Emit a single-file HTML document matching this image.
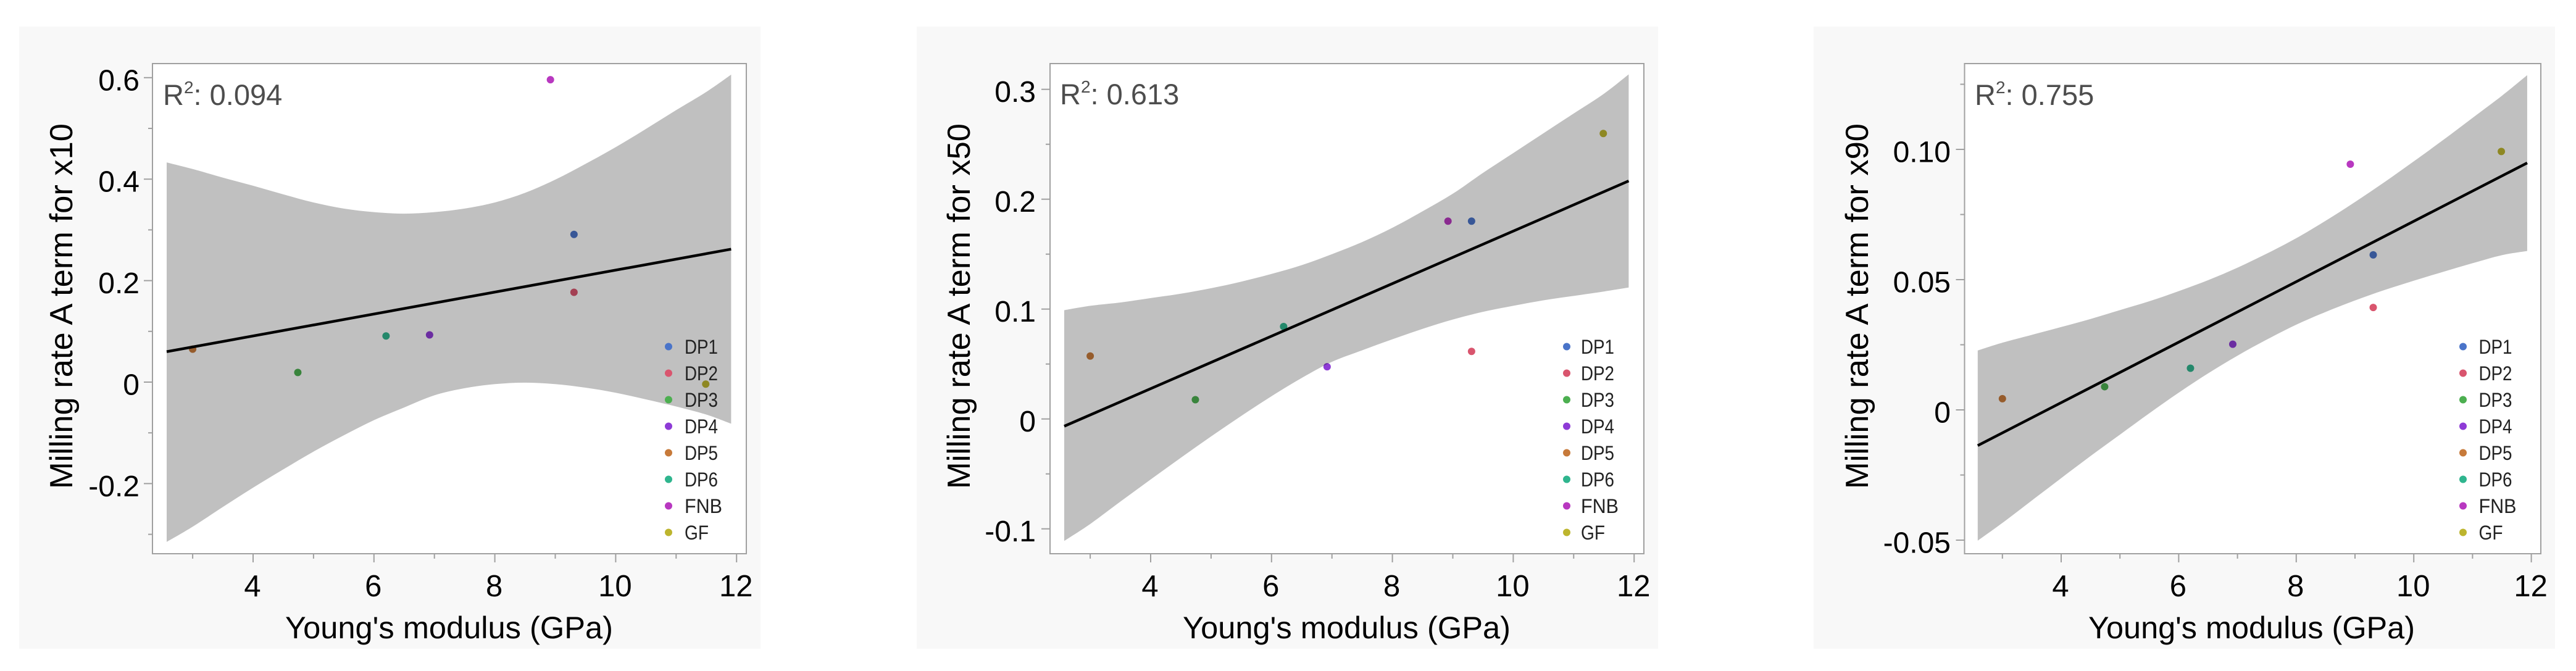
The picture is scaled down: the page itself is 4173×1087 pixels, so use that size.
<!DOCTYPE html>
<html lang="en">
<head>
<meta charset="utf-8">
<title>Milling rate A term vs Young's modulus</title>
<style>
html,body{margin:0;padding:0;background:#fff;width:4173px;height:1087px;overflow:hidden}
svg{display:block;font-family:"Liberation Sans",sans-serif}
.band{mix-blend-mode:multiply}
</style>
</head>
<body>
<svg id="figure" xmlns="http://www.w3.org/2000/svg" width="4173" height="1087" viewBox="0 0 4173 1087">
  <g id="chart-x10">
    <rect x="31" y="43" width="1201" height="1008" fill="#f8f8f8"/>
    <rect x="247" y="103" width="962" height="794" fill="#fff"/>
    <g class="marks"></g>
    <rect x="247" y="103" width="962" height="794" fill="none" stroke="#a0a0a0" stroke-width="2"/>
    <g class="axes"></g>
    <text x="264" y="170" font-size="47" fill="#4d4d4d">R<tspan dy="-19" font-size="28">2</tspan><tspan dy="19">: 0.094</tspan></text>
    <text transform="translate(117,792) rotate(-90)" font-size="52" fill="#000" textLength="592" lengthAdjust="spacingAndGlyphs">Milling rate A term for x10</text>
    <text x="462" y="1034" font-size="50" fill="#000" textLength="531" lengthAdjust="spacingAndGlyphs">Young's modulus (GPa)</text>
  </g>
  <g id="chart-x50">
    <rect x="1485" y="43" width="1201" height="1008" fill="#f8f8f8"/>
    <rect x="1701" y="103" width="962" height="794" fill="#fff"/>
    <g class="marks"></g>
    <rect x="1701" y="103" width="962" height="794" fill="none" stroke="#a0a0a0" stroke-width="2"/>
    <g class="axes"></g>
    <text x="1717" y="169" font-size="47" fill="#4d4d4d">R<tspan dy="-19" font-size="28">2</tspan><tspan dy="19">: 0.613</tspan></text>
    <text transform="translate(1571,792) rotate(-90)" font-size="52" fill="#000" textLength="592" lengthAdjust="spacingAndGlyphs">Milling rate A term for x50</text>
    <text x="1916" y="1034" font-size="50" fill="#000" textLength="531" lengthAdjust="spacingAndGlyphs">Young's modulus (GPa)</text>
  </g>
  <g id="chart-x90">
    <rect x="2938" y="43" width="1201" height="1008" fill="#f8f8f8"/>
    <rect x="3182.5" y="103" width="933.5" height="794" fill="#fff"/>
    <g class="marks"></g>
    <rect x="3182.5" y="103" width="933.5" height="794" fill="none" stroke="#a0a0a0" stroke-width="2"/>
    <g class="axes"></g>
    <text x="3199" y="170" font-size="47" fill="#4d4d4d">R<tspan dy="-19" font-size="28">2</tspan><tspan dy="19">: 0.755</tspan></text>
    <text transform="translate(3026,792) rotate(-90)" font-size="52" fill="#000" textLength="592" lengthAdjust="spacingAndGlyphs">Milling rate A term for x90</text>
    <text x="3383" y="1034" font-size="50" fill="#000" textLength="529" lengthAdjust="spacingAndGlyphs">Young's modulus (GPa)</text>
  </g>
</svg>
<script>
const categories = ['DP1','DP2','DP3','DP4','DP5','DP6','FNB','GF'];
const categoryColors = ['#4a74c9','#d9556e','#4caf50','#8e3bd6','#c77a3a','#2fb58e','#b838c0','#bdb52e'];
const modulus = [9.31,9.31,4.74,6.92,3.0,6.2,8.92,11.49];

const rateX10 = [0.291,0.177,0.019,0.093,0.065,0.091,0.596,-0.004];
const rateX50 = [0.18,0.0615,0.0175,0.0475,0.0573,0.0841,0.18,0.2598];
const rateX90 = [0.0595,0.0393,0.0089,0.0252,0.0043,0.016,0.0943,0.0992];

const bandXWide = [2.57,3,3.5,4,4.5,5,5.5,6,6.5,7,7.5,8,8.5,9,9.5,10,10.5,11,11.5,11.91];
const bandXNarrow = [2.58,3,3.5,4,4.5,5,5.5,6,6.5,7,7.5,8,8.5,9,9.5,10,10.5,11,11.5,11.93];

const upperX10 = [0.433,0.42,0.403,0.387,0.37,0.354,0.342,0.335,0.332,0.335,0.342,0.354,0.373,0.399,0.43,0.463,0.499,0.536,0.572,0.606];
const lowerX10 = [-0.315,-0.285,-0.246,-0.208,-0.172,-0.137,-0.105,-0.075,-0.05,-0.026,-0.012,-0.004,-0.001,-0.004,-0.011,-0.021,-0.034,-0.048,-0.064,-0.082];
const fitX10 = [0.06,0.262];

const upperX50 = [0.099,0.103,0.106,0.11,0.114,0.119,0.125,0.132,0.14,0.15,0.161,0.174,0.189,0.205,0.224,0.242,0.26,0.278,0.296,0.3136];
const lowerX50 = [-0.111,-0.0956,-0.0752,-0.0551,-0.0353,-0.0159,0.0028,0.0207,0.0373,0.052,0.0625,0.0725,0.082,0.0905,0.0975,0.103,0.108,0.112,0.116,0.1196];
const fitX50 = [-0.0066,0.2166];

const upperX90 = [0.0228,0.0258,0.0288,0.0318,0.0349,0.0383,0.0417,0.0456,0.0498,0.0546,0.06,0.0659,0.0726,0.0798,0.0874,0.0954,0.1036,0.1121,0.1206,0.1285];
const lowerX90 = [-0.0502,-0.0434,-0.0348,-0.0262,-0.0177,-0.0095,-0.0013,0.0066,0.014,0.0208,0.027,0.0327,0.0376,0.042,0.046,0.0496,0.053,0.0563,0.0594,0.061];
const fitX90 = [-0.0137,0.0948];

const xMajorTicks = [4,6,8,10,12];
const xMinorTicks = [3,5,7,9,11];

const yTicksX10 = [-0.2,0,0.2,0.4,0.6];
const yLabelsX10 = ['-0.2','0','0.2','0.4','0.6'];
const yMinorX10 = [-0.3,-0.1,0.1,0.3,0.5];

const yTicksX50 = [-0.1,0,0.1,0.2,0.3];
const yLabelsX50 = ['-0.1','0','0.1','0.2','0.3'];
const yMinorX50 = [-0.05,0.05,0.15,0.25];

const yTicksX90 = [-0.05,0,0.05,0.10];
const yLabelsX90 = ['-0.05','0','0.05','0.10'];
const yMinorX90 = [-0.025,0.025,0.075,0.125];

const legendTextWidths = [54,54,54,54,54,54,61,39];

const SVGNS = 'http://www.w3.org/2000/svg';
function make(tag, parent, attrs, text) {
  const el = document.createElementNS(SVGNS, tag);
  for (const k in attrs) el.setAttribute(k, attrs[k]);
  if (text !== undefined) el.textContent = text;
  parent.appendChild(el);
  return el;
}

// smooth curve through read-off knots (Catmull-Rom to cubic Bezier)
function curveThrough(pts) {
  let d = '';
  for (let i = 0; i < pts.length - 1; i++) {
    const p0 = pts[Math.max(i - 1, 0)];
    const p1 = pts[i];
    const p2 = pts[i + 1];
    const p3 = pts[Math.min(i + 2, pts.length - 1)];
    const c1x = p1[0] + (p2[0] - p0[0]) / 6;
    const c1y = p1[1] + (p2[1] - p0[1]) / 6;
    const c2x = p2[0] - (p3[0] - p1[0]) / 6;
    const c2y = p2[1] - (p3[1] - p1[1]) / 6;
    d += ' C' + c1x + ' ' + c1y + ' ' + c2x + ' ' + c2y + ' ' + p2[0] + ' ' + p2[1];
  }
  return d;
}

function drawChart(c) {
  const root = document.getElementById(c.id);
  const marks = root.querySelector('.marks');
  const axes = root.querySelector('.axes');
  const xAxis = v => c.x4 + (v - 4) * c.xUnit;
  const yAxis = v => c.y0 - v * c.yUnit;

  // points sit beneath the multiply-blended band, so they darken inside it
  c.ys.forEach((v, i) => {
    const dot = make('circle', marks, {cx: xAxis(modulus[i]), cy: yAxis(v), r: 6, fill: categoryColors[i]});
    
    
  });

  const upperPts = c.bandX.map((x, i) => [xAxis(x), yAxis(c.upper[i])]);
  const lowerPts = c.bandX.map((x, i) => [xAxis(x), yAxis(c.lower[i])]).reverse();
  const bandPath = 'M' + upperPts[0].join(' ') + curveThrough(upperPts) +
    ' L' + lowerPts[0].join(' ') + curveThrough(lowerPts) + ' Z';
  const band = make('path', marks, {d: bandPath, fill: '#c0c0c0', class: 'band'});
  
  

  const first = c.bandX[0];
  const last = c.bandX[c.bandX.length - 1];
  const fit = make('line', marks, {x1: xAxis(first), y1: yAxis(c.fit[0]), x2: xAxis(last), y2: yAxis(c.fit[1]), stroke: '#000', 'stroke-width': 4.4});
  
  

  categories.forEach((label, i) => {
    const ly = 561.5 + i * 43;
    const key = make('circle', marks, {cx: c.legendDot, cy: ly, r: 6, fill: categoryColors[i]});
    
    
    const txt = make('text', marks, {x: c.legendText, y: ly + 11.5, 'font-size': 32, fill: '#222', textLength: legendTextWidths[i], lengthAdjust: 'spacingAndGlyphs'}, label);
    
    
  });

  xMajorTicks.forEach(v => {
    const t = make('line', axes, {x1: xAxis(v), x2: xAxis(v), y1: 897, y2: 911, stroke: '#a0a0a0', 'stroke-width': 2});
    
    
    const l = make('text', axes, {x: xAxis(v) - 1, y: 966, 'font-size': 49, fill: '#000', 'text-anchor': 'middle'}, String(v));
    
    
  });
  xMinorTicks.forEach(v => {
    const t = make('line', axes, {x1: xAxis(v), x2: xAxis(v), y1: 897, y2: 905, stroke: '#a0a0a0', 'stroke-width': 2});
    
    
  });
  c.yTicks.forEach((v, i) => {
    const t = make('line', axes, {x1: c.plotLeft - 14, x2: c.plotLeft, y1: yAxis(v), y2: yAxis(v), stroke: '#a0a0a0', 'stroke-width': 2});
    
    
    const l = make('text', axes, {x: c.labelRight, y: yAxis(v) + 20.5, 'font-size': 48, fill: '#000', 'text-anchor': 'end'}, c.yLabels[i]);
    
    
  });
  c.yMinor.forEach(v => {
    const t = make('line', axes, {x1: c.plotLeft - 7, x2: c.plotLeft, y1: yAxis(v), y2: yAxis(v), stroke: '#a0a0a0', 'stroke-width': 2});
    
    
  });
}

drawChart({id:'chart-x10', x4:410, xUnit:97.9, y0:619, yUnit:822, plotLeft:247, labelRight:226, legendDot:1083, legendText:1109,
  ys:rateX10, bandX:bandXWide, upper:upperX10, lower:lowerX10, fit:fitX10, yTicks:yTicksX10, yLabels:yLabelsX10, yMinor:yMinorX10});
drawChart({id:'chart-x50', x4:1864, xUnit:97.9, y0:678.7, yUnit:1780, plotLeft:1701, labelRight:1678, legendDot:2538, legendText:2561,
  ys:rateX50, bandX:bandXWide, upper:upperX50, lower:lowerX50, fit:fitX50, yTicks:yTicksX50, yLabels:yLabelsX50, yMinor:yMinorX50});
drawChart({id:'chart-x90', x4:3339, xUnit:95.2, y0:664, yUnit:4220, plotLeft:3182.5, labelRight:3160, legendDot:3990, legendText:4015.5,
  ys:rateX90, bandX:bandXNarrow, upper:upperX90, lower:lowerX90, fit:fitX90, yTicks:yTicksX90, yLabels:yLabelsX90, yMinor:yMinorX90});
</script>
</body>
</html>
